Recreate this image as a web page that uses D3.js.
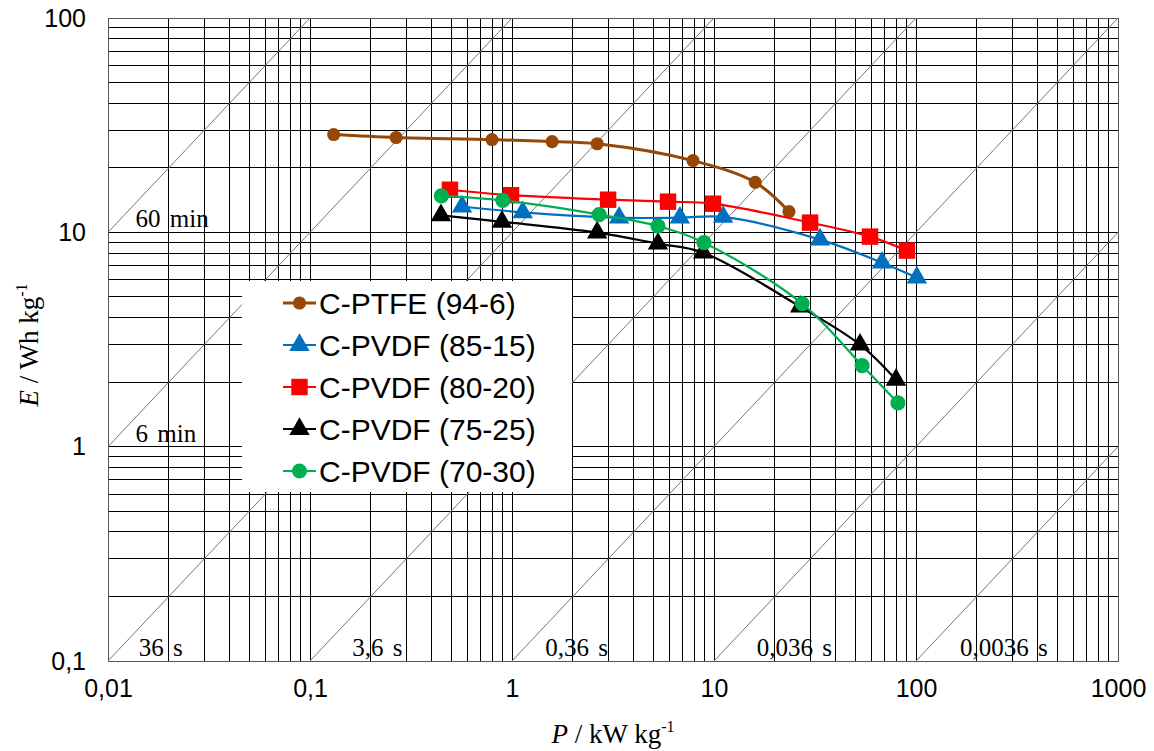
<!DOCTYPE html>
<html>
<head>
<meta charset="utf-8">
<script src="https://cdn.jsdelivr.net/npm/d3@7"></script>
<style>
  body { margin: 0; background: #fff; }
  svg { display: block; }
</style>
</head>
<body>
<svg id="ragone"></svg>
<script>
const width = 1154, height = 751;
const margin = { top: 18, right: 36, bottom: 90, left: 108 };

// series, P in kW/kg, E in Wh/kg
const seriesNames = ["C-PTFE (94-6)", "C-PVDF (85-15)", "C-PVDF (80-20)", "C-PVDF (75-25)", "C-PVDF (70-30)"];
const ptfeP = [0.131, 0.267, 0.796, 1.58, 2.64, 7.87, 16.0, 23.5];
const ptfeE = [28.6, 27.7, 27.1, 26.5, 25.9, 21.6, 17.1, 12.5];
const pvdf85P = [0.566, 1.13, 3.39, 6.78, 11.1, 33.5, 67.9, 101];
const pvdf85E = [13.2, 12.4, 11.7, 11.7, 11.8, 9.25, 7.22, 6.15];
const pvdf80P = [0.493, 0.989, 2.99, 5.92, 9.89, 29.9, 59.2, 90.2];
const pvdf80E = [15.8, 14.9, 14.2, 13.9, 13.6, 11.1, 9.55, 8.22];
const pvdf75P = [0.445, 0.892, 2.64, 5.28, 8.83, 26.7, 52.8, 79.6];
const pvdf75E = [12.0, 11.2, 9.97, 8.85, 8.04, 4.50, 2.99, 2.05];
const pvdf70P = [0.447, 0.90, 2.70, 5.28, 8.92, 27.3, 54.1, 81.4];
const pvdf70E = [14.8, 14.1, 12.1, 10.7, 8.95, 4.65, 2.39, 1.60];

const xTicks = [0.01, 0.1, 1, 10, 100, 1000];
const yTicks = [0.1, 1, 10, 100];

// constant discharge time lines (hours) and their labels
const timeHours = [1, 0.1, 0.01, 0.001, 0.0001, 0.00001, 0.000001];
const timeLabels = ["60 min", "6 min", "36 s", "3,6 s", "0,36 s", "0,036 s", "0,0036 s"];
const timeLabelP = [0.0137, 0.0137, 0.0142, 0.162, 1.46, 16.3, 165];

const colors = ["#974806", "#0070c0", "#ff0000", "#000000", "#00b050"];
const symbols = [d3.symbolCircle, d3.symbolTriangle, d3.symbolSquare, d3.symbolTriangle, d3.symbolCircle];
const symSizes = [135, 180, 270, 180, 180];
const lineWidths = [3, 2.2, 2.2, 2.2, 2.2];

const allSeries = [
  [ptfeP, ptfeE], [pvdf85P, pvdf85E], [pvdf80P, pvdf80E], [pvdf75P, pvdf75E], [pvdf70P, pvdf70E]
].map(([P, E], i) => ({ name: seriesNames[i], values: P.map((p, j) => ({ p: p, e: E[j] })) }));

const svg = d3.select("#ragone").attr("width", width).attr("height", height);

const x = d3.scaleLog().domain([0.01, 1000]).range([margin.left, width - margin.right]);
const y = d3.scaleLog().domain([0.1, 100]).range([height - margin.bottom, margin.top]);

const comma = d => String(d).replace(".", ",");

svg.append("clipPath").attr("id", "plotClip")
  .append("rect")
  .attr("x", margin.left).attr("y", margin.top)
  .attr("width", x.range()[1] - x.range()[0])
  .attr("height", y.range()[0] - y.range()[1]);

// grid
const grid = svg.append("g").attr("stroke", "#000").attr("stroke-width", 1).attr("shape-rendering", "crispEdges");
grid.selectAll(".vg").data(x.ticks()).join("line")
  .attr("x1", d => x(d)).attr("x2", d => x(d))
  .attr("y1", y.range()[1]).attr("y2", y.range()[0]);
grid.selectAll(".hg").data(y.ticks()).join("line")
  .attr("y1", d => y(d)).attr("y2", d => y(d))
  .attr("x1", x.range()[0]).attr("x2", x.range()[1]);
grid.append("rect")
  .attr("x", margin.left).attr("y", margin.top)
  .attr("width", x.range()[1] - x.range()[0])
  .attr("height", y.range()[0] - y.range()[1])
  .attr("fill", "none").attr("stroke", "#555");

// constant time diagonals
const diag = svg.append("g").attr("clip-path", "url(#plotClip)");
diag.selectAll("line").data(timeHours).join("line")
  .attr("x1", x(0.01)).attr("y1", t => y(0.01 * 1000 * t))
  .attr("x2", x(1000)).attr("y2", t => y(1000 * 1000 * t))
  .attr("stroke", "#777").attr("stroke-width", 1);

diag.selectAll("text").data(timeHours).join("text")
  .attr("x", (t, i) => x(timeLabelP[i]))
  .attr("y", t => Math.min(y(0.01 * 1000 * t), y.range()[0]) - 5)
  .attr("font-family", "Liberation Serif, Times New Roman, serif")
  .attr("font-size", 25)
  .attr("word-spacing", 3)
  .attr("fill", "#000")
  .text((t, i) => timeLabels[i]);

// axes
const xAxis = g => g.attr("transform", `translate(0,${y.range()[0]})`)
  .call(d3.axisBottom(x).tickValues(xTicks).tickFormat(comma).tickSize(0).tickPadding(18))
  .call(g => g.select(".domain").remove())
  .call(g => g.selectAll("text").attr("font-family", "Liberation Sans, Arial, sans-serif").attr("font-size", 25).attr("fill", "#000"));

const yAxis = g => g.attr("transform", `translate(${margin.left},0)`)
  .call(d3.axisLeft(y).tickValues(yTicks).tickFormat(comma).tickSize(0).tickPadding(22))
  .call(g => g.select(".domain").remove())
  .call(g => g.selectAll("text").attr("font-family", "Liberation Sans, Arial, sans-serif").attr("font-size", 25).attr("fill", "#000"));

svg.append("g").call(xAxis);
svg.append("g").call(yAxis);

// axis titles
const xt = svg.append("text")
  .attr("x", 613).attr("y", 743)
  .attr("text-anchor", "middle")
  .attr("font-family", "Liberation Serif, Times New Roman, serif")
  .attr("font-size", 27);
xt.append("tspan").attr("font-style", "italic").text("P");
xt.append("tspan").text(" / kW kg");
xt.append("tspan").attr("dy", -11).attr("font-size", 16).text("-1");

const yt = svg.append("text")
  .attr("transform", "translate(38,345) rotate(-90)")
  .attr("text-anchor", "middle")
  .attr("font-family", "Liberation Serif, Times New Roman, serif")
  .attr("font-size", 27);
yt.append("tspan").attr("font-style", "italic").text("E");
yt.append("tspan").text(" / Wh kg");
yt.append("tspan").attr("dy", -11).attr("font-size", 16).text("-1");

// series
const line = d3.line().x(d => x(d.p)).y(d => y(d.e)).curve(d3.curveCatmullRom.alpha(0.5));

allSeries.forEach((s, i) => {
  const g = svg.append("g");
  g.append("path")
    .attr("d", line(s.values))
    .attr("fill", "none")
    .attr("stroke", colors[i])
    .attr("stroke-width", lineWidths[i]);
  g.selectAll("path.m").data(s.values).join("path")
    .attr("class", "m")
    .attr("transform", d => `translate(${x(d.p)},${y(d.e)})`)
    .attr("d", d3.symbol(symbols[i], symSizes[i]))
    .attr("fill", colors[i]);
});

// legend
const legend = svg.append("g");
legend.append("rect")
  .attr("x", 242).attr("y", 281).attr("width", 330).attr("height", 211)
  .attr("fill", "#fff");

const rows = legend.selectAll("g.row").data(allSeries).join("g")
  .attr("class", "row")
  .attr("transform", (d, i) => `translate(283,${303 + i * 42})`);
rows.append("line")
  .attr("x1", 0).attr("x2", 33)
  .attr("stroke", (d, i) => colors[i])
  .attr("stroke-width", (d, i) => lineWidths[i]);
rows.append("path")
  .attr("transform", "translate(16.5,0)")
  .attr("d", (d, i) => d3.symbol(symbols[i], symSizes[i])())
  .attr("fill", (d, i) => colors[i]);
rows.append("text")
  .attr("x", 36).attr("dy", "0.35em")
  .attr("font-family", "Liberation Sans, Arial, sans-serif")
  .attr("font-size", 30)
  .attr("fill", "#000")
  .text(d => d.name);
</script>
</body>
</html>
